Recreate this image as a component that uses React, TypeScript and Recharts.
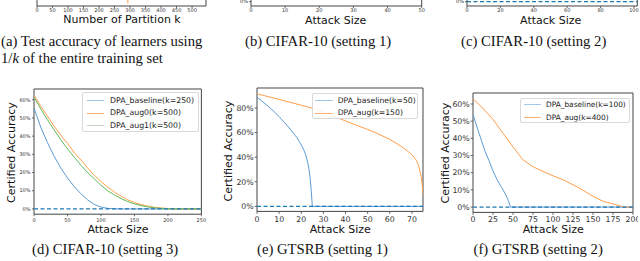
import React from 'react';
import { LineChart, Line, XAxis, YAxis, ReferenceLine, ReferenceArea, Legend } from 'recharts';

// ---------- (a)/(b)/(c) partial top row ----------
const aTicks = [0, 50, 100, 150, 200, 250, 300, 350, 400, 450, 500];
const aMarkX = [293, 293];
const aMarkY = [100, 6];
const bTicks = [0, 10, 20, 30, 40, 50];
const cTicks = [0, 20, 40, 60, 80, 100];

// ---------- (d) CIFAR-10 (setting 3) ----------
const dAttack = [0, 10, 20, 30, 40, 50, 60, 70, 80, 90, 100, 110, 120, 130, 140, 150, 160, 170, 180, 190, 200, 210, 220, 230, 240, 250];
const dBaseline = [55.5, 45, 36.5, 29, 22.5, 17, 12.3, 8.3, 5, 2.5, 1, 0.3, 0.1, 0, 0, 0, 0, 0, 0, 0, 0, 0, 0, 0, 0, 0];
const dAug0 = [62.5, 56.5, 51, 45.5, 40.5, 36, 31, 27, 22.5, 18.5, 15, 12, 9.3, 7, 5, 3.5, 2.4, 1.5, 0.9, 0.5, 0.25, 0.1, 0, 0, 0, 0];
const dAug1 = [61.5, 55, 49, 43.5, 38, 33, 28.5, 24, 20, 16.5, 13, 10, 7.7, 5.7, 4, 2.8, 1.8, 1.1, 0.6, 0.3, 0.1, 0, 0, 0, 0, 0];
const dXTicks = [0, 50, 100, 150, 200, 250];
const dYTicks = [0, 0.1, 0.2, 0.3, 0.4, 0.5, 0.6];

// ---------- (e) GTSRB (setting 1) ----------
const eBaseX = [0, 2, 4, 6, 8, 10, 12, 14, 16, 18, 19, 20, 21, 22, 23, 23.5, 24, 24.5, 25, 75];
const eBaseY = [88.8, 86, 83, 80, 76.5, 73, 69, 65, 60.5, 56, 53, 50, 46.5, 42, 35, 30, 23, 13, 0, 0];
const eAugX = [0, 10, 20, 25, 30, 40, 50, 53.5, 60, 65, 68, 70, 72, 73, 74, 74.5, 74.8, 75];
const eAugY = [91.6, 87, 82.3, 79.8, 76.5, 69.5, 62.5, 60, 54.5, 49, 45, 42, 37.5, 33, 26, 20, 14, 9];
const eXTicks = [0, 10, 20, 30, 40, 50, 60, 70];
const eYTicks = [0, 0.2, 0.4, 0.6, 0.8];

// ---------- (f) GTSRB (setting 2) ----------
const fBaseX = [0, 3, 6, 9, 12.5, 15, 20, 25, 30, 35, 40, 44, 47, 200];
const fBaseY = [54, 49.5, 45, 41, 36, 32.5, 27, 21, 16, 12, 8, 4, 0, 0];
const fAugX = [0, 12.5, 25, 37.5, 50, 62.5, 75, 87.5, 100, 112.5, 125, 137.5, 150, 162.5, 175, 187, 190, 200];
const fAugY = [63, 57.5, 51, 43, 35, 27.5, 23.5, 20.7, 18.2, 15.9, 13, 9.8, 6.3, 3.4, 1.8, 0.3, 0, 0];
const fXTicks = [0, 25, 50, 75, 100, 125, 150, 175, 200];
const fYTicks = [0, 0.1, 0.2, 0.3, 0.4, 0.5, 0.6];

const BLUE = '#5b9bd5';
const BLUE_L = '#a2c8ea';
const ORANGE = '#ff9e4a';
const ORANGE_L = '#ffb072';
const GREEN = '#5cb85c';
const GREEN_L = '#c4d6c4';
const ZERO = '#1f77b4';
const FRAME = '#444';
const FONT = 'DejaVu Sans, sans-serif';

type S = { name: string; xs: number[]; ys: number[]; color: string; legendColor: string };
type LegendSpec = { left: number; top: number; width: number; height: number; font: number; rows: number[]; sx: [number, number]; tx: number };
type PanelProps = {
  plotLeft: number; plotTop: number; plotRight: number; plotBottom: number;
  xDomain: [number, number]; xTicks: number[];
  yDomain: [number, number]; yTicks: number[];
  series: S[]; tickFont: number;
  xTickSize: number; xTickMargin: number; yTickSize: number; yTickMargin: number;
  zeroLine?: boolean; legend?: LegendSpec; lineWidth?: number;
};

const YW = 40;
const XH = 20;
const PAD = 5;

function Panel(p: PanelProps) {
  const plotW = p.plotRight - p.plotLeft;
  const plotH = p.plotBottom - p.plotTop;
  const width = YW + plotW + PAD;
  const height = PAD + plotH + XH;
  const wrapLeft = p.plotLeft - YW;
  const wrapTop = p.plotTop - PAD;
  const lg = p.legend;
  const renderLegend = () => {
    if (!lg) return null;
    return (
      <div style={{ position: 'relative', width: lg.width, height: lg.height, boxSizing: 'border-box', border: '1px solid #d9d9d9', borderRadius: 2, background: 'rgba(255,255,255,0.85)', fontFamily: FONT, fontSize: lg.font, color: '#222' }}>
        {p.series.map((s, i) => (
          <React.Fragment key={s.name}>
            <div style={{ position: 'absolute', left: lg.sx[0], width: lg.sx[1] - lg.sx[0], top: lg.rows[i] - 0.75, height: 0, borderTop: `1.5px solid ${s.legendColor}` }} />
            <div style={{ position: 'absolute', left: lg.tx, top: lg.rows[i] - lg.font / 2, lineHeight: `${lg.font}px`, whiteSpace: 'nowrap' }}>{s.name}</div>
          </React.Fragment>
        ))}
      </div>
    );
  };
  return (
    <div style={{ position: 'absolute', left: wrapLeft, top: wrapTop }}>
      <LineChart width={width} height={height} margin={{ top: PAD, right: PAD, bottom: 0, left: 0 }}>
        <XAxis
          type="number" dataKey="x" domain={p.xDomain} ticks={p.xTicks} allowDataOverflow interval={0}
          height={XH} tickSize={p.xTickSize} tickMargin={p.xTickMargin} axisLine={false}
          tickLine={{ stroke: FRAME, strokeWidth: 0.8 }}
          tick={{ fontSize: p.tickFont, fill: '#333', fontFamily: FONT }}
        />
        <YAxis
          type="number" domain={p.yDomain} ticks={p.yTicks} allowDataOverflow interval={0}
          width={YW} tickSize={p.yTickSize} tickMargin={p.yTickMargin} axisLine={false}
          tickLine={{ stroke: FRAME, strokeWidth: 0.8 }}
          tick={{ fontSize: p.tickFont, fill: '#333', fontFamily: FONT }}
          tickFormatter={(v: number) => `${Math.round(v * 100)}%`}
        />
        {p.series.map((s) => (
          <Line
            key={s.name} name={s.name} data={s.xs.map((x, i) => ({ x, y: s.ys[i] / 100 }))}
            dataKey="y" type="linear" stroke={s.color} strokeWidth={p.lineWidth ?? 1} dot={false}
            isAnimationActive={false} legendType="line"
          />
        ))}
        {p.zeroLine && <ReferenceLine y={0} stroke={ZERO} strokeWidth={1.2} strokeDasharray="4 2.5" ifOverflow="visible" />}
        <ReferenceArea x1={p.xDomain[0]} x2={p.xDomain[1]} y1={p.yDomain[0]} y2={p.yDomain[1]} fill="none" fillOpacity={0} stroke={FRAME} strokeWidth={1} ifOverflow="visible" />
        {lg && (
          <Legend
            layout="vertical" align="center" verticalAlign="middle"
            content={renderLegend}
            wrapperStyle={{ position: 'absolute', left: lg.left - wrapLeft, top: lg.top - wrapTop, width: lg.width, height: lg.height, margin: 0, padding: 0 }}
          />
        )}
      </LineChart>
    </div>
  );
}

const dSeries: S[] = [
  { name: 'DPA_baseline(k=250)', xs: dAttack, ys: dBaseline, color: BLUE, legendColor: BLUE_L },
  { name: 'DPA_aug0(k=500)', xs: dAttack, ys: dAug0, color: ORANGE, legendColor: ORANGE_L },
  { name: 'DPA_aug1(k=500)', xs: dAttack, ys: dAug1, color: GREEN, legendColor: GREEN_L },
];
const eSeries: S[] = [
  { name: 'DPA_baseline(k=50)', xs: eBaseX, ys: eBaseY, color: BLUE, legendColor: BLUE_L },
  { name: 'DPA_aug(k=150)', xs: eAugX, ys: eAugY, color: ORANGE, legendColor: ORANGE_L },
];
const fSeries: S[] = [
  { name: 'DPA_baseline(k=100)', xs: fBaseX, ys: fBaseY, color: BLUE, legendColor: BLUE_L },
  { name: 'DPA_aug(k=400)', xs: fAugX, ys: fAugY, color: ORANGE, legendColor: ORANGE_L },
];
const aSeries: S[] = [
  { name: 'mark', xs: aMarkX, ys: aMarkY, color: ORANGE, legendColor: ORANGE },
];

const serif = 'Liberation Serif, Times New Roman, serif';

export default function App() {
  return (
    <div style={{ position: 'absolute', left: 0, top: 0, width: 640, height: 261, overflow: 'hidden', background: '#fff' }}>
      {/* top partial row */}
      <Panel plotLeft={37} plotRight={206} plotTop={-40} plotBottom={6} xDomain={[0, 545]} xTicks={aTicks}
        yDomain={[0, 1]} yTicks={[]} series={aSeries} tickFont={5} xTickSize={2} xTickMargin={0.5} yTickSize={2} yTickMargin={1} />
      <Panel plotLeft={251} plotRight={421.7} plotTop={-40} plotBottom={6} xDomain={[0, 50]} xTicks={bTicks}
        yDomain={[-0.1, 0.97]} yTicks={[0]} series={[]} tickFont={5} xTickSize={2} xTickMargin={0.5} yTickSize={2} yTickMargin={1} />
      <Panel plotLeft={466.7} plotRight={637} plotTop={-40} plotBottom={6} xDomain={[0, 102]} xTicks={cTicks}
        yDomain={[-0.1, 0.97]} yTicks={[0]} series={[]} tickFont={5} xTickSize={2} xTickMargin={0.5} yTickSize={2} yTickMargin={1} zeroLine />

      {/* (d) */}
      <Panel plotLeft={34.3} plotRight={201.7} plotTop={89.3} plotBottom={214.5} xDomain={[0, 250]} xTicks={dXTicks}
        yDomain={[-0.029, 0.659]} yTicks={dYTicks} series={dSeries} tickFont={5} xTickSize={2} xTickMargin={1.8}
        yTickSize={2} yTickMargin={1.5} zeroLine
        legend={{ left: 81.7, top: 91.7, width: 117.3, height: 40, font: 7.8, rows: [8.3, 20.6, 33.3], sx: [4.3, 21.6], tx: 27.3 }} />
      {/* (e) */}
      <Panel plotLeft={257.3} plotRight={423.3} plotTop={88.3} plotBottom={211.7} xDomain={[0, 75]} xTicks={eXTicks}
        yDomain={[-0.041, 0.963]} yTicks={eYTicks} series={eSeries} tickFont={7.8} xTickSize={2.5} xTickMargin={2.3}
        yTickSize={2.5} yTickMargin={0.8} zeroLine
        legend={{ left: 311.7, top: 92.7, width: 106.6, height: 26.6, font: 7.7, rows: [6.8, 19.6], sx: [2.6, 20], tx: 25 }} />
      {/* (f) */}
      <Panel plotLeft={473.3} plotRight={633.3} plotTop={93.3} plotBottom={212.7} xDomain={[0, 200]} xTicks={fXTicks}
        yDomain={[-0.031, 0.664]} yTicks={fYTicks} series={fSeries} tickFont={7.8} xTickSize={2.5} xTickMargin={1.6}
        yTickSize={2.5} yTickMargin={0.8} zeroLine
        legend={{ left: 520, top: 97.7, width: 110, height: 25.6, font: 7.4, rows: [6.5, 19], sx: [3.3, 20], tx: 25 }} />

      {/* overlay texts */}
      <svg width={640} height={261} style={{ position: 'absolute', left: 0, top: 0, pointerEvents: 'none' }}>
        <g fontFamily={FONT} fontSize={11} fill="#111">
          <text x={122} y={23} textAnchor="middle">Number of Partition k</text>
          <text x={335.7} y={23.5} textAnchor="middle">Attack Size</text>
          <text x={550.7} y={23.5} textAnchor="middle">Attack Size</text>
          <text x={118} y={233} textAnchor="middle">Attack Size</text>
          <text x={340.3} y={233} textAnchor="middle">Attack Size</text>
          <text x={553.3} y={233} textAnchor="middle">Attack Size</text>
          <text transform="translate(14.8,152.5) rotate(-90)" textAnchor="middle">Certified Accuracy</text>
          <text transform="translate(232.3,151) rotate(-90)" textAnchor="middle">Certified Accuracy</text>
          <text transform="translate(448.7,153) rotate(-90)" textAnchor="middle">Certified Accuracy</text>
        </g>
        <g fontFamily={serif} fontSize={14.7} fill="#111">
          <text x={1} y={45.5}>(a) Test accuracy of learners using</text>
          <text x={1} y={63}>1/<tspan fontStyle="italic">k</tspan> of the entire training set</text>
          <text x={245} y={45.5}>(b) CIFAR-10 (setting 1)</text>
          <text x={461} y={45.5}>(c) CIFAR-10 (setting 2)</text>
          <text x={32} y={253.5}>(d) CIFAR-10 (setting 3)</text>
          <text x={257} y={253.5}>(e) GTSRB (setting 1)</text>
          <text x={473.5} y={253.5}>(f) GTSRB (setting 2)</text>
        </g>
      </svg>
    </div>
  );
}
